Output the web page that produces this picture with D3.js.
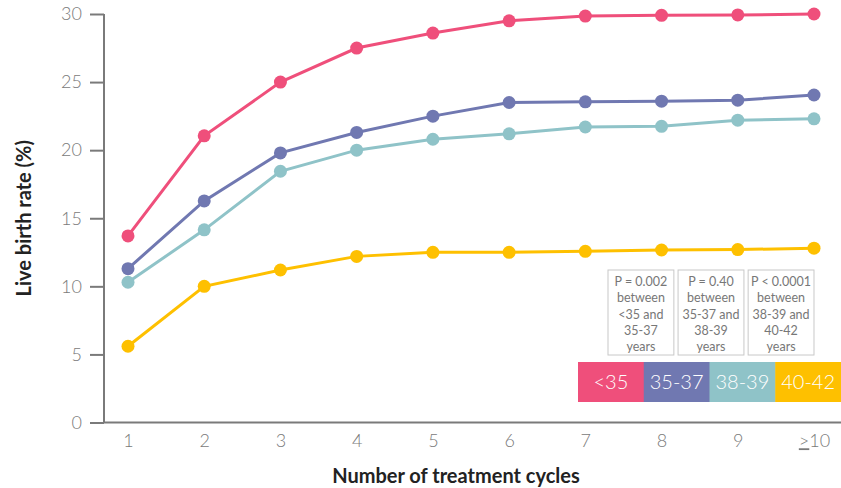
<!DOCTYPE html>
<html><head><meta charset="utf-8">
<script src="https://cdn.jsdelivr.net/npm/d3@7"></script>
<style>body{margin:0;background:#fff}svg{display:block}</style>
</head><body>
<svg id="c" width="841" height="488"></svg>
<script>
const categories = ["1","2","3","4","5","6","7","8","9","≥10"];
const seriesNames = ["<35","35-37","38-39","40-42"];
const seriesColors = ["#EF4F7B","#7078B1","#8FC3C8","#FEC000"];
const under35 = [13.7,21.05,25.0,27.5,28.6,29.5,29.85,29.9,29.93,30.0];
const age35to37 = [11.3,16.27,19.8,21.3,22.5,23.5,23.55,23.6,23.67,24.05];
const age38to39 = [10.3,14.15,18.45,20.0,20.8,21.2,21.7,21.75,22.2,22.3];
const age40to42 = [5.6,10.0,11.2,12.2,12.5,12.5,12.57,12.67,12.7,12.8];
const yTicks = [0,5,10,15,20,25,30];
const pNotes = [
  ["P = 0.002","between","<35 and","35-37","years"],
  ["P = 0.40","between","35-37 and","38-39","years"],
  ["P < 0.0001","between","38-39 and","40-42","years"]
];
const allSeries = [under35, age35to37, age38to39, age40to42];

const svg = d3.select("#c");
const font = "Lato, 'Open Sans', sans-serif";
const x = d3.scalePoint().domain(categories).range([128, 814]);
const y = d3.scaleLinear().domain([0,30]).range([422.5, 14]);
const axisColor = "#7a7a7a";

// y axis
const ya = svg.append("g").attr("transform","translate(104,0)")
  .call(d3.axisLeft(y).tickValues(yTicks).tickSize(14).tickPadding(8));
ya.select(".domain").attr("stroke",axisColor).attr("stroke-width",2).attr("d","M0,"+y(30)+"V"+y(0));
ya.selectAll(".tick line").attr("stroke",axisColor).attr("stroke-width",2);
ya.selectAll(".tick text").attr("fill","#7a7a7a").attr("font-size",18).attr("font-family",font).attr("font-weight",300);

// x axis
const xa = svg.append("g").attr("transform","translate(0,"+y(0)+")")
  .call(d3.axisBottom(x).tickSize(0).tickPadding(12));
xa.select(".domain").attr("stroke",axisColor).attr("stroke-width",2).attr("d","M103,0H841");
xa.selectAll(".tick text").attr("fill","#7a7a7a").attr("font-size",18).attr("font-family",font).attr("font-weight",300)
  .text(d => d === "≥10" ? "" : d);
xa.selectAll(".tick").filter(d => d === "≥10").select("text")
  .call(t => { t.append("tspan").attr("text-decoration","underline").text(">"); t.append("tspan").text("10"); });

// titles
svg.append("text").attr("transform","translate(31,"+((y(0)+y(30))/2)+") rotate(-90)")
  .attr("text-anchor","middle").attr("font-family",font).attr("font-weight",700).attr("font-size",20).attr("fill","#222")
  .text("Live birth rate (%)");
svg.append("text").attr("x",456).attr("y",483).attr("text-anchor","middle")
  .attr("font-family",font).attr("font-weight",700).attr("font-size",20).attr("fill","#222")
  .text("Number of treatment cycles");

// lines
const line = d3.line().x((d,i)=>x(categories[i])).y(d=>y(d));
allSeries.forEach((s,k)=>{
  svg.append("path").datum(s).attr("d",line).attr("fill","none").attr("stroke",seriesColors[k]).attr("stroke-width",3);
  svg.selectAll(null).data(s).enter().append("circle")
    .attr("cx",(d,i)=>x(categories[i])).attr("cy",d=>y(d)).attr("r",6.5).attr("fill",seriesColors[k]);
});

// p notes
const boxX = d3.scaleBand().domain(d3.range(pNotes.length)).range([608,814]).paddingInner(0.06);
pNotes.forEach((lines,i)=>{
  const g = svg.append("g").attr("transform","translate("+boxX(i)+",270)");
  g.append("rect").attr("width",boxX.bandwidth()).attr("height",85).attr("fill","#fff").attr("stroke","#c8c8c8").attr("stroke-width",1);
  lines.forEach((t,j)=>{
    g.append("text").attr("x",boxX.bandwidth()/2).attr("y",16+j*16.3).attr("text-anchor","middle")
      .attr("font-family",font).attr("font-size",12.5).attr("fill","#777").text(t);
  });
});

// legend bar
const lx = d3.scaleBand().domain(seriesNames).range([578,841]);
seriesNames.forEach((n,i)=>{
  svg.append("rect").attr("x",lx(n)).attr("y",362).attr("width",lx.bandwidth()+0.5).attr("height",40).attr("fill",seriesColors[i]);
  svg.append("text").attr("x",lx(n)+lx.bandwidth()/2).attr("y",389).attr("text-anchor","middle")
    .attr("font-family",font).attr("font-size",20).attr("font-weight",300).attr("fill","#fff").text(n);
});
</script>
</body></html>
